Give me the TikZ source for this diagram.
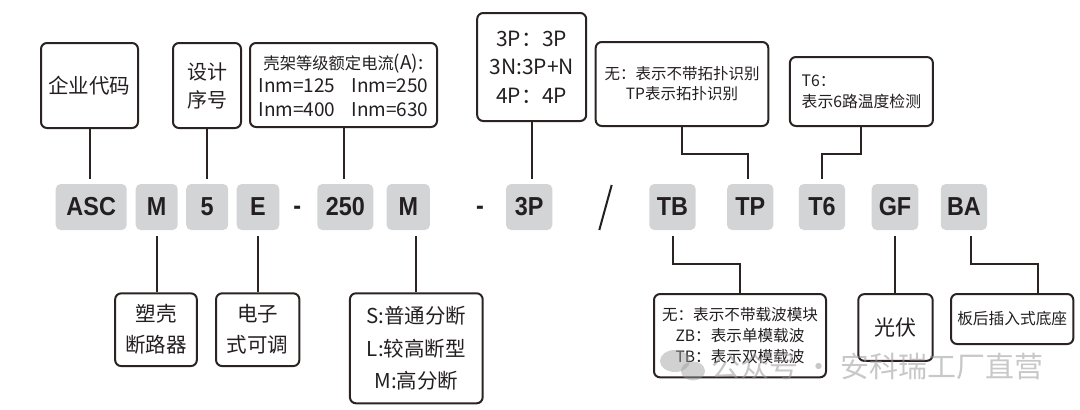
\documentclass[tikz,border=0pt]{standalone}
\usepackage{fontspec}
\setmainfont{Noto Sans CJK SC}
\newfontfamily\codefont[FakeStretch=0.9]{Liberation Sans Bold}
\usetikzlibrary{calc}
\definecolor{ink}{HTML}{231F20}
\definecolor{edge}{HTML}{2B2222}
\definecolor{codefill}{HTML}{D3D4D6}
\definecolor{wm}{HTML}{9A9A9A}
\begin{document}
\begin{tikzpicture}[x=1pt,y=-1pt,
 code/.style={fill=codefill, rounded corners=5pt, minimum height=46pt, inner sep=0pt,
   font=\codefont\fontsize{26}{26}\selectfont, text=ink},
 sep/.style={inner sep=0pt, anchor=base, font=\codefont\fontsize{26}{26}\selectfont, text=ink},
 desc/.style={draw=edge, line width=2pt, rounded corners=6pt, fill=white, inner sep=0pt,
   text=ink, align=center},
 link/.style={draw=edge, line width=2pt},
]
\useasboundingbox (0,0) rectangle (1080,410);

% code row
\node[code, minimum width=71pt] (cASC) at (91.2,207) {ASC};
\node[code, minimum width=42pt] (cM1) at (156.7,207) {M};
\node[code, minimum width=42pt] (c5) at (207.2,207) {5};
\node[code, minimum width=42.6pt] (cE) at (258,207) {E};
\node[sep] (d1) at (297.3,214) {-};
\node[code, minimum width=56pt] (c250) at (345.3,207) {250};
\node[code, minimum width=43.3pt] (cM2) at (408.3,207) {M};
\node[sep] (d2) at (480,214) {-};
\node[code, minimum width=46.3pt] (c3P) at (529.2,207) {3P};
\node[code, minimum width=46.4pt] (cTB) at (672.5,207) {TB};
\node[code, minimum width=46.3pt] (cTP) at (750.2,207) {TP};
\node[code, minimum width=46.3pt] (cT6) at (821.9,207) {T6};
\node[code, minimum width=46.6pt] (cGF) at (895,207) {GF};
\node[code, minimum width=46.3pt] (cBA) at (963.9,207) {BA};
\draw[draw=ink, line width=2pt] (611.7,185) -- (599.3,230);

% top boxes
\node[desc, minimum width=97pt, minimum height=85pt, font=\fontsize{20.5}{24}\selectfont] (qiye) at (89.5,85.5) {企业代码};
\node[desc, minimum width=68pt, minimum height=85pt, font=\fontsize{20}{28}\selectfont] (sheji) at (207,85.5) {设计\\序号};
\node[desc, minimum width=187pt, minimum height=84pt, font=\fontsize{19}{23.5}\selectfont] (kejia) at (343.5,85)
  {{\fontsize{16.3}{23.5}\selectfont 壳架等级额定电流}{\fontsize{19}{23.5}\selectfont(A):}\\
   Inm=125\hspace{16pt}Inm=250\\ Inm=400\hspace{16pt}Inm=630};
\node[desc, minimum width=109pt, minimum height=108pt, font=\fontsize{21}{28.5}\selectfont] (pole) at (531.7,67) {3P：3P\\3N:3P+N\\4P：4P};
\node[desc, minimum width=172.6pt, minimum height=84pt, font=\fontsize{15.5}{20}\selectfont] (topo) at (682,84) {无：表示不带拓扑识别\\TP表示拓扑识别};
\node[desc, minimum width=143pt, minimum height=69pt, align=left, font=\fontsize{15.8}{21}\selectfont] (temp) at (861.4,91.5) {T6：\\表示6路温度检测};

% bottom boxes
\node[desc, minimum width=81.7pt, minimum height=72.7pt, font=\fontsize{20.5}{31}\selectfont] (suke) at (156,329.7) {塑壳\\断路器};
\node[desc, minimum width=83.3pt, minimum height=72.7pt, font=\fontsize{20.5}{31}\selectfont] (dianzi) at (257.7,329.7) {电子\\式可调};
\node[desc, minimum width=132.7pt, minimum height=110pt, font=\fontsize{20.5}{32.5}\selectfont] (duan) at (416.3,348.3) {S:普通分断\\L:较高断型\\M:高分断};
\node[desc, minimum width=172pt, minimum height=83.3pt, font=\fontsize{15.6}{20.7}\selectfont] (zaibo) at (740,335.7) {无：表示不带载波模块\\ZB：表示单模载波\\TB：表示双模载波};
\node[desc, minimum width=74.4pt, minimum height=66.7pt, font=\fontsize{21}{24}\selectfont] (gf) at (895.5,327.5) {光伏};
\node[desc, minimum width=122.3pt, minimum height=50pt, font=\fontsize{15.7}{20}\selectfont] (bh) at (1012.2,319) {板后插入式底座};

% connectors up
\draw[link, shorten >=5pt] (qiye.south) -- (qiye.south |- cASC.north);
\draw[link, shorten >=5pt] (sheji.south) -- (sheji.south |- c5.north);
\draw[link, shorten >=5pt] (kejia.south) -- (kejia.south |- c250.north);
\draw[link, shorten >=5pt] (pole.south) -- (pole.south |- c3P.north);
\draw[link, shorten >=5pt] (topo.south) -- ++(0,27) -| ([xshift=-2pt]cTP.north);
\draw[link, shorten >=5pt] (temp.south) -- ++(0,27) -| (cT6.north);

% connectors down
\draw[link, shorten <=6pt] (cM1.south) -- (cM1.south |- suke.north);
\draw[link, shorten <=6pt] (cE.south) -- (cE.south |- dianzi.north);
\draw[link, shorten <=6pt] (duan.north |- cM2.south) -- (duan.north);
\draw[link, shorten <=6pt] (cTB.south) -- ++(0,34) -| (zaibo.north);
\draw[link, shorten <=6pt] (cGF.south) -- (cGF.south |- gf.north);
\draw[link, shorten <=6pt] ([xshift=7pt]cBA.south) -- ++(0,34) -| ([xshift=25.5pt]bh.north);

% watermark
\fill[wm, opacity=0.45] (675,361) ellipse (15pt and 11pt);
\fill[wm, opacity=0.45] (693,371) ellipse (12pt and 9.5pt);
\node[anchor=west, inner sep=0pt, text=wm, text opacity=0.55, font=\fontsize{29}{29}\selectfont] (wmark) at (711,366) {公众号 · 安科瑞工厂直营};
\end{tikzpicture}
\end{document}
